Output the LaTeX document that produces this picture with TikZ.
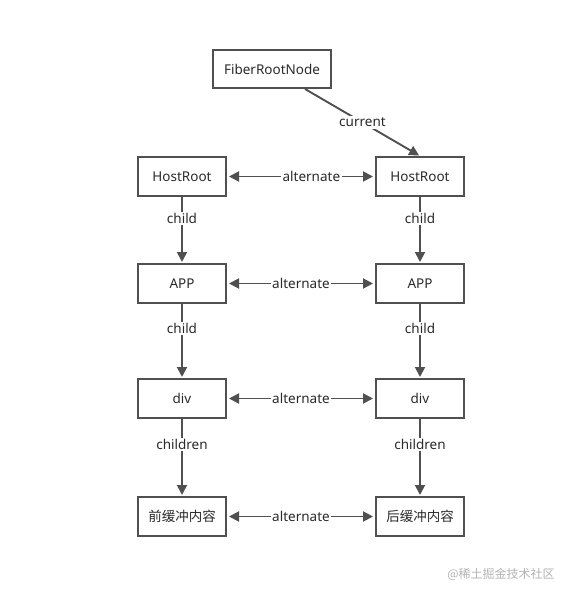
\documentclass[tikz,border=0pt]{standalone}
\usepackage{fontspec}
\setmainfont{Noto Sans}
\newfontfamily\cjk{Noto Sans CJK SC}
\usetikzlibrary{arrows.meta}
\definecolor{linegray}{HTML}{505050}
\definecolor{textgray}{HTML}{2A2A2A}
\begin{document}
\begin{tikzpicture}[x=1pt,y=-1pt,
  fiber/.style={draw=linegray, line width=2pt, minimum width=88pt, minimum height=39pt, inner sep=0pt, text=textgray, font=\fontsize{13.5}{16}\selectfont},
  link/.style={draw=linegray, line width=1.9pt, -{Triangle[length=10pt,width=10pt]}, shorten >=1pt},
  twoway/.style={link, {Triangle[length=10pt,width=10pt]}-{Triangle[length=10pt,width=10pt]}, shorten <=2pt, shorten >=2pt},
  tag/.style={fill=white, text=textgray, inner sep=1.5pt, font=\fontsize{13.5}{16}\selectfont}]
\useasboundingbox (0,0) rectangle (570,596);
\node[fiber, minimum width=118pt, minimum height=38pt] (root) at (272,69) {FiberRootNode};
\node[fiber] (hostL) at (182,176.5) {HostRoot};
\node[fiber] (hostR) at (420,176.5) {HostRoot};
\node[fiber] (appL) at (182,283.5) {APP};
\node[fiber] (appR) at (420,283.5) {APP};
\node[fiber] (divL) at (182,398.5) {div};
\node[fiber] (divR) at (420,398.5) {div};
\node[fiber] (bufL) at (182,516.5) {\cjk 前缓冲内容};
\node[fiber] (bufR) at (420,516.5) {\cjk 后缓冲内容};
\draw[link] ([xshift=33pt]root.south) -- node[tag]{current} (hostR.north);
\draw[twoway] (hostL) -- node[tag, pos=0.57]{alternate} (hostR);
\draw[twoway] (appL) -- node[tag]{alternate} (appR);
\draw[twoway] (divL) -- node[tag]{alternate} (divR);
\draw[twoway] (bufL) -- node[tag]{alternate} (bufR);
\draw[link] (hostL) -- node[tag, pos=0.33]{child} (appL);
\draw[link] (hostR) -- node[tag, pos=0.33]{child} (appR);
\draw[link] (appL) -- node[tag, pos=0.33]{child} (divL);
\draw[link] (appR) -- node[tag, pos=0.33]{child} (divR);
\draw[link] (divL) -- node[tag, pos=0.33]{children} (bufL);
\draw[link] (divR) -- node[tag, pos=0.33]{children} (bufR);
\node[text=black!30, font=\cjk\fontsize{12}{14}\selectfont] (mark) at (501,574) {@稀土掘金技术社区};
\end{tikzpicture}
\end{document}
